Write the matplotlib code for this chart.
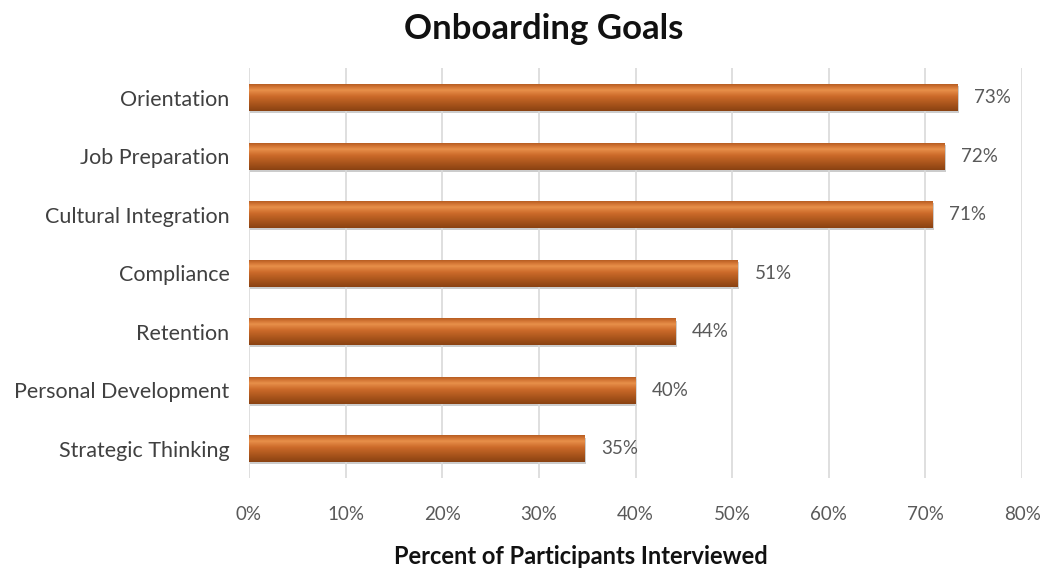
import numpy as np
import matplotlib.pyplot as plt
from matplotlib.colors import LinearSegmentedColormap
from matplotlib.patches import Rectangle

plt.rcParams['font.family'] = ['Lato', 'DejaVu Sans']

goals = ["Orientation", "Job Preparation", "Cultural Integration", "Compliance",
         "Retention", "Personal Development", "Strategic Thinking"]
shares = [73.3, 72.0, 70.7, 50.6, 44.1, 40.0, 34.7]
labels = ["73%", "72%", "71%", "51%", "44%", "40%", "35%"]
xticks = [0, 10, 20, 30, 40, 50, 60, 70, 80]

fig = plt.figure(figsize=(10.44, 5.69), dpi=100)
ax = fig.add_axes([0.2385, 0.16, 0.7405, 0.72])

y = np.arange(len(goals))
h = 0.46

# gradient for the bevel look (top -> bottom)
cmap = LinearSegmentedColormap.from_list("bev", [
    (0.0, "#b75e22"), (0.1, "#d27433"), (0.22, "#e8904a"),
    (0.45, "#cc6a2a"), (0.75, "#a8541b"), (1.0, "#8a4212")])
grad = np.linspace(0, 1, 64).reshape(-1, 1)

bars = ax.barh(y, shares, height=h, color="#c0631f", zorder=2)
for b, lab in zip(bars, labels):
    x0, y0 = b.get_x(), b.get_y()
    w, hh = b.get_width(), b.get_height()
    # shadow
    ax.add_patch(Rectangle((x0 + 0.15, y0 + 0.04), w, hh, color="#000000",
                           alpha=0.2, zorder=1.5, lw=0))
    im = ax.imshow(grad, cmap=cmap, aspect="auto", origin="upper",
                   extent=(x0, x0 + w, y0 + hh, y0), zorder=2.5)
    im.set_clip_path(b)
    ax.text(x0 + w + 1.7, y0 + hh / 2, lab, va="center", ha="left",
            fontsize=13.5, color="#595959")

ax.set_xlim(0, 80)
ax.set_ylim(len(goals) - 0.5, -0.5)
ax.set_xticks(xticks)
ax.set_xticklabels([f"{t}%" for t in xticks], fontsize=13.5, color="#595959")
ax.set_yticks(y)
ax.set_yticklabels(goals, fontsize=15.5, color="#404040")
ax.tick_params(length=0, pad=20)
ax.tick_params(axis="y", pad=14)
ax.grid(axis="x", color="#d9d9d9", lw=1.2, zorder=0)
for s in ax.spines.values():
    s.set_visible(False)

fig.suptitle("Onboarding Goals", fontsize=25, fontweight="bold", color="#111111",
             x=0.521, y=0.977)
fig.text(0.556, 0.022, "Percent of Participants Interviewed", fontsize=17,
         fontweight="bold", color="#111111", ha="center", va="center")

fig.savefig("out.png", dpi=100)
